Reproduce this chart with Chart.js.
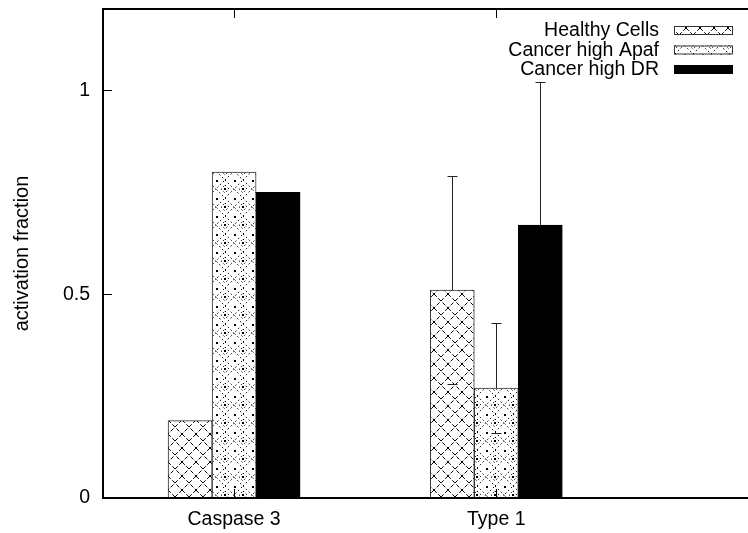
<!DOCTYPE html>
<html>
<head>
<meta charset="utf-8">
<script src="https://cdn.jsdelivr.net/npm/chart.js@4.4.1/dist/chart.umd.min.js"></script>
<style>
  html, body { margin: 0; padding: 0; background: #fff; }
</style>
</head>
<body>
<canvas id="chart" width="748" height="533"></canvas>
<script>
// data
const categories = ['Caspase 3', 'Type 1'];
const seriesNames = ['Healthy Cells', 'Cancer high Apaf', 'Cancer high DR'];
const healthy = [0.19, 0.51];
const apaf = [0.80, 0.27];
const highDR = [0.75, 0.67];
// [low, high] error values, null where no error bar is drawn
const healthyErr = [null, [0.28, 0.79]];
const apafErr = [null, [0.16, 0.43]];
const highDRErr = [null, [null, 1.02]];
const yTicks = [0, 0.5, 1];

const FONT = "'Liberation Sans', Arial, Helvetica, sans-serif";
Chart.defaults.font.family = FONT;
Chart.defaults.color = '#000';

// gnuplot-like fill patterns
function makePattern(size, draw) {
  const c = document.createElement('canvas');
  c.width = size; c.height = size;
  const g = c.getContext('2d');
  g.fillStyle = '#fff';
  g.fillRect(0, 0, size, size);
  draw(g, size);
  return document.getElementById('chart').getContext('2d').createPattern(c, 'repeat');
}

const crossHatch = makePattern(14, (g, s) => {
  g.strokeStyle = '#000';
  g.lineWidth = 1;
  g.setLineDash([4, 2]);
  g.beginPath();
  g.moveTo(0, 0); g.lineTo(s, s);
  g.moveTo(s, 0); g.lineTo(0, s);
  g.stroke();
});

const diamonds = makePattern(18, (g, s) => {
  g.strokeStyle = '#000';
  g.lineWidth = 1;
  g.setLineDash([1.5, 2.5]);
  g.beginPath();
  g.moveTo(s / 2, 0); g.lineTo(s, s / 2); g.lineTo(s / 2, s); g.lineTo(0, s / 2); g.closePath();
  g.moveTo(s / 2, s / 2 - 4); g.lineTo(s / 2 + 4, s / 2); g.lineTo(s / 2, s / 2 + 4); g.lineTo(s / 2 - 4, s / 2); g.closePath();
  g.stroke();
  g.fillStyle = '#000';
  g.fillRect(0, 0, 2, 2);
  g.fillRect(s / 2 - 1, s / 2 - 1, 2, 2);
});

const fills = [crossHatch, diamonds, '#000'];
const seriesValues = [healthy, apaf, highDR];
const seriesErrors = [healthyErr, apafErr, highDRErr];

const gnuplotFrame = {
  id: 'gnuplotFrame',
  afterDatasetsDraw(chart) {
    const ctx = chart.ctx;
    const a = chart.chartArea;
    const xs = chart.scales.x;
    const ys = chart.scales.y;
    ctx.save();

    // error bars
    ctx.strokeStyle = '#222';
    ctx.lineWidth = 1;
    seriesErrors.forEach((errs, di) => {
      const meta = chart.getDatasetMeta(di);
      errs.forEach((e, j) => {
        if (!e) return;
        const bar = meta.data[j];
        const x = Math.round(bar.x) + 0.5;
        const yTop = Math.round(ys.getPixelForValue(e[1])) + 0.5;
        ctx.beginPath();
        ctx.moveTo(x, bar.y);
        ctx.lineTo(x, yTop);
        ctx.moveTo(x - 5, yTop);
        ctx.lineTo(x + 5, yTop);
        if (e[0] !== null) {
          const yLow = Math.round(ys.getPixelForValue(e[0])) + 0.5;
          ctx.moveTo(x - 5, yLow);
          ctx.lineTo(x + 5, yLow);
        }
        ctx.stroke();
      });
    });

    // border
    ctx.strokeStyle = '#000';
    ctx.lineWidth = 2;
    ctx.beginPath();
    ctx.moveTo(a.right, a.top);
    ctx.lineTo(a.left, a.top);
    ctx.lineTo(a.left, a.bottom);
    ctx.lineTo(a.right, a.bottom);
    ctx.stroke();

    // inward tick marks
    ctx.lineWidth = 1;
    ctx.beginPath();
    yTicks.forEach(v => {
      const y = Math.round(ys.getPixelForValue(v)) + 0.5;
      ctx.moveTo(a.left, y);
      ctx.lineTo(a.left + 9, y);
    });
    categories.forEach((c, i) => {
      const x = Math.round(xs.getPixelForValue(i)) + 0.5;
      ctx.moveTo(x, a.top);
      ctx.lineTo(x, a.top + 9);
      ctx.moveTo(x, a.bottom);
      ctx.lineTo(x, a.bottom - 9);
    });
    ctx.stroke();

    // legend: right aligned labels, sample box to the right
    ctx.font = '19.5px ' + FONT;
    ctx.textAlign = 'right';
    ctx.textBaseline = 'middle';
    seriesNames.forEach((name, i) => {
      const cy = 30 + i * 19.5;
      ctx.fillStyle = '#000';
      ctx.fillText(name, 659, cy + 1);
      ctx.fillStyle = fills[i];
      ctx.fillRect(674, cy - 4, 59, 9);
      if (i < 2) {
        ctx.strokeStyle = '#333';
        ctx.strokeRect(674.5, cy - 3.5, 58, 8);
      }
    });
    ctx.restore();
  }
};

new Chart(document.getElementById('chart'), {
  type: 'bar',
  data: {
    datasets: seriesNames.map((name, i) => ({
      label: name,
      data: seriesValues[i].map((v, j) => ({ x: j, y: v })),
      backgroundColor: fills[i],
      borderColor: i < 2 ? '#333' : '#000',
      borderWidth: 1,
      borderSkipped: false,
      barThickness: 44,
      grouped: true
    }))
  },
  options: {
    responsive: false,
    animation: false,
    layout: { padding: { top: 9, right: 0, left: 0, bottom: 0 } },
    plugins: {
      legend: { display: false },
      tooltip: { enabled: false }
    },
    scales: {
      x: {
        type: 'linear',
        offset: false,
        min: -0.5,
        max: 1.96,
        grid: { display: false, drawTicks: false },
        border: { display: false },
        afterBuildTicks: s => { s.ticks = categories.map((c, i) => ({ value: i })); },
        afterFit: s => { s.height = 35; s.paddingLeft = 0; s.paddingRight = 0; },
        ticks: {
          autoSkip: false,
          maxRotation: 0,
          padding: 10,
          font: { size: 19.5 },
          callback: v => categories[v] ?? ''
        }
      },
      y: {
        min: 0,
        max: 1.2,
        grid: { display: false, drawTicks: false },
        border: { display: false },
        afterBuildTicks: s => { s.ticks = yTicks.map(v => ({ value: v })); },
        afterFit: s => { s.width = 103; s.paddingTop = 0; s.paddingBottom = 0; },
        ticks: {
          padding: 13,
          font: { size: 19.5 },
          callback: v => String(v)
        },
        title: {
          display: true,
          text: 'activation fraction',
          font: { size: 20 },
          padding: { top: 10, bottom: 0 }
        }
      }
    }
  },
  plugins: [gnuplotFrame]
});
</script>
</body>
</html>
